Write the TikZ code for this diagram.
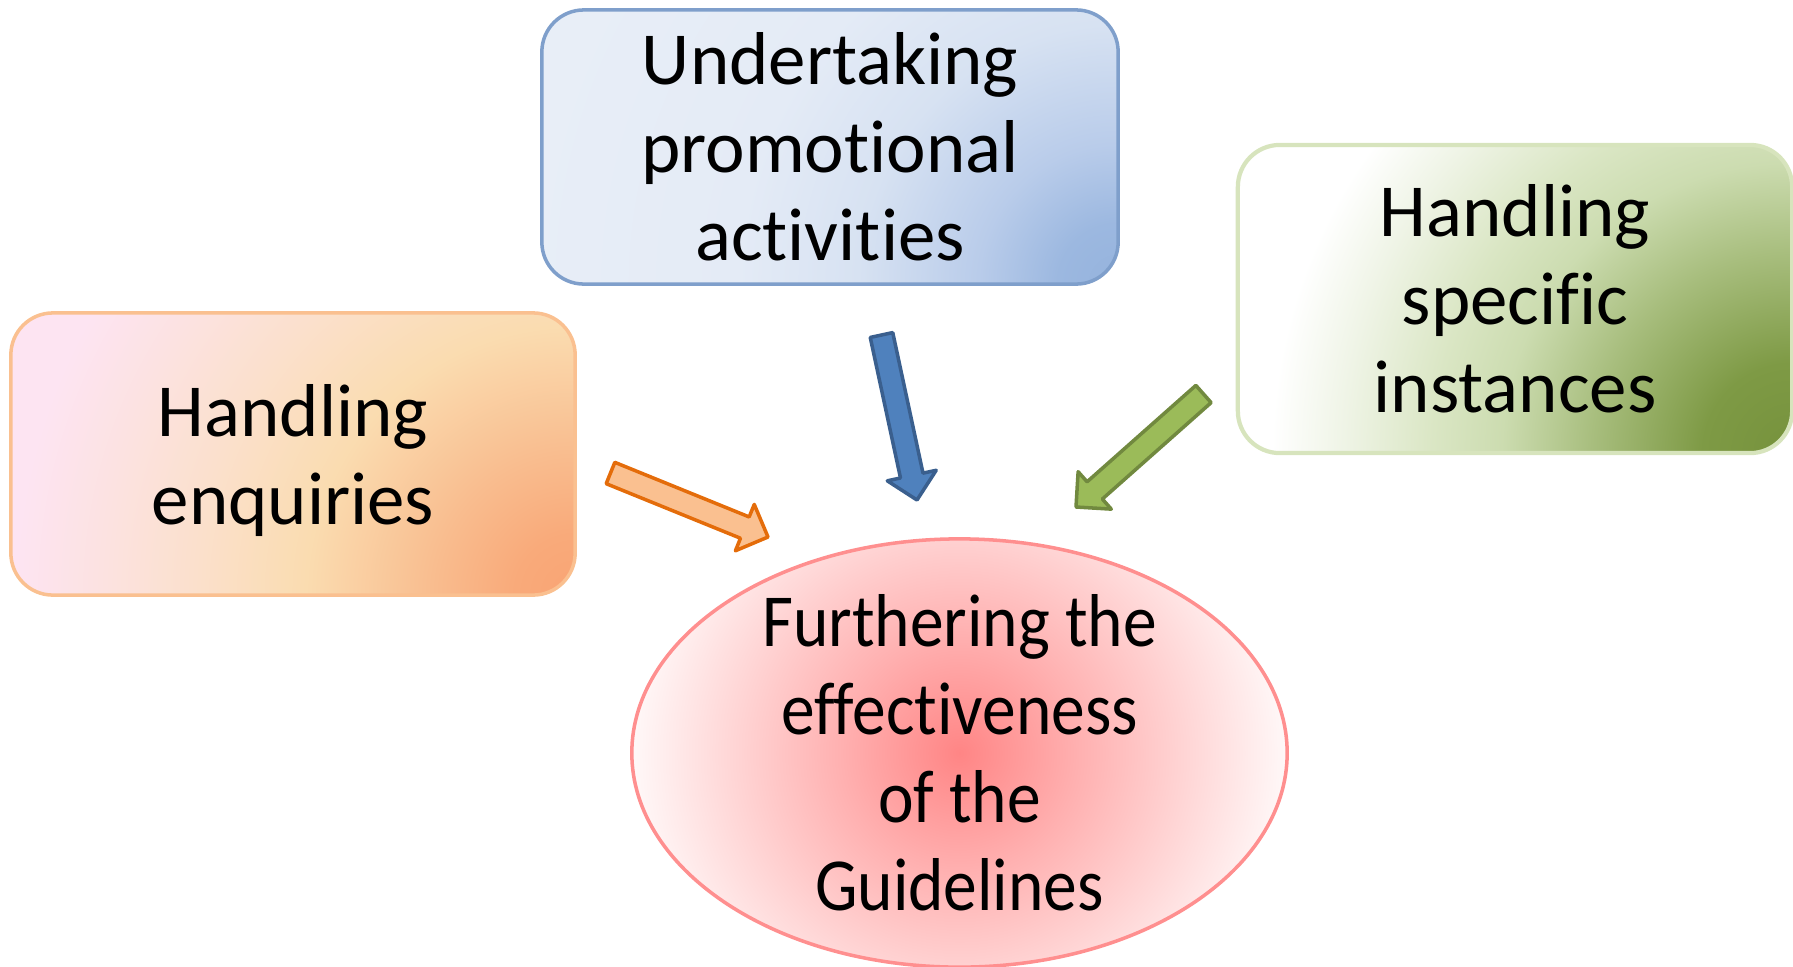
\documentclass[tikz,border=0pt]{standalone}
\usepackage{fontspec}
\setmainfont[Ligatures=NoCommon]{Carlito}
\newfontfamily\narrowfont[FakeStretch=0.9,Ligatures=NoCommon]{Carlito}
\usetikzlibrary{calc,shapes.geometric}

\definecolor{oBorder}{HTML}{FAC090}
\definecolor{oA}{HTML}{F9A474}
\definecolor{oB}{HTML}{F9AA7A}
\definecolor{oC}{HTML}{F9BC8E}
\definecolor{oD}{HTML}{FADCB0}
\definecolor{oE}{HTML}{FBE0CC}
\definecolor{oF}{HTML}{FCE2E0}
\definecolor{oG}{HTML}{FDE4F2}
\definecolor{bBorder}{HTML}{7F9FCB}
\definecolor{bA}{HTML}{95B3DD}
\definecolor{bB}{HTML}{9CB8E0}
\definecolor{bC}{HTML}{B9CCEA}
\definecolor{bD}{HTML}{D7E2F2}
\definecolor{bE}{HTML}{E4EBF6}
\definecolor{bF}{HTML}{E8EEF7}
\definecolor{gBorder}{HTML}{D7E4BD}
\definecolor{gA}{HTML}{76923C}
\definecolor{gB}{HTML}{7E9A45}
\definecolor{gC}{HTML}{A8BE7E}
\definecolor{gD}{HTML}{CCDCB0}
\definecolor{gE}{HTML}{DAE6C4}
\definecolor{gF}{HTML}{EFF4E6}
\definecolor{gG}{HTML}{FFFFFF}
\definecolor{rBorder}{HTML}{FF8F8F}
\definecolor{rOne}{HTML}{FF8585}
\definecolor{rTwo}{HTML}{FFB0B0}
\definecolor{rThree}{HTML}{FFD4D4}
\definecolor{rFour}{HTML}{FFF8F8}
\definecolor{oaFill}{HTML}{FAC090}
\definecolor{oaDraw}{HTML}{E46C0A}
\definecolor{baFill}{HTML}{4F81BD}
\definecolor{baDraw}{HTML}{3A5F8E}
\definecolor{gaFill}{HTML}{9BBB59}
\definecolor{gaDraw}{HTML}{71893F}

% radial shadings from the lower right corner (radius 6.6cm <-> 25bp)
\pgfdeclareradialshading{orangerad}{\pgfpoint{0bp}{0bp}}{color(0bp)=(oA); color(2.3bp)=(oB); color(5.3bp)=(oC); color(10.2bp)=(oD); color(14.4bp)=(oE); color(17.8bp)=(oF); color(21.2bp)=(oG); color(50bp)=(oG)}
\pgfdeclareradialshading{bluerad}{\pgfpoint{0bp}{0bp}}{color(0bp)=(bA); color(2.3bp)=(bB); color(5.3bp)=(bC); color(9.85bp)=(bD); color(14.4bp)=(bE); color(22.7bp)=(bF); color(50bp)=(bF)}
\pgfdeclareradialshading{greenrad}{\pgfpoint{0bp}{0bp}}{color(0bp)=(gA); color(3.4bp)=(gB); color(7.6bp)=(gC); color(11bp)=(gD); color(13.6bp)=(gE); color(17bp)=(gF); color(19.7bp)=(gG); color(50bp)=(gG)}
\pgfdeclareradialshading{redshade}{\pgfpoint{0bp}{0bp}}{color(0bp)=(rOne); color(9bp)=(rTwo); color(17bp)=(rThree); color(25bp)=(rFour); color(50bp)=(rFour)}

\newcommand\blockarrow[3]{%
  \coordinate (ah) at ($(#3)!0.25cm!(#2)$);
  \draw[#1] ($(#2)!0.115cm!90:(#3)$) -- ($(ah)!0.115cm!90:(#3)$) -- ($(ah)!0.25cm!90:(#3)$) -- (#3)
     -- ($(ah)!0.25cm!-90:(#3)$) -- ($(ah)!0.115cm!-90:(#3)$) -- ($(#2)!0.115cm!-90:(#3)$) -- cycle;
}

\begin{document}
\begin{tikzpicture}[x=0.01cm,y=-0.01cm,
  txt/.style={font=\fontsize{21.3}{25}\selectfont, align=center, text=black},
  narrowtxt/.style={font=\narrowfont\fontsize{21.3}{25}\selectfont, align=center, text=black},
  box/.style={rectangle, rounded corners=0.42cm, inner sep=0pt, outer sep=0pt, line width=1pt},
  cornershade/.style={path picture={\shade[shading=#1] (path picture bounding box.south east) circle (6.6cm);}},
  blockarr/.style={line width=1pt, line join=round}]
\useasboundingbox (0,0) rectangle (1793,966);

\node[box, draw=oBorder, cornershade=orangerad, minimum width=5.64cm, minimum height=2.82cm, txt] (enq) at (293,454) {\rule{0pt}{18.5pt}Handling\\enquiries};
\node[box, draw=bBorder, cornershade=bluerad, minimum width=5.76cm, minimum height=2.74cm, txt] (promo) at (830,147) {Undertaking\\promotional\\activities};
\node[box, draw=gBorder, line width=1.2pt, cornershade=greenrad, minimum width=5.54cm, minimum height=3.08cm, txt] (inst) at (1515,299) {Handling\\specific\\instances};

\node[ellipse, draw=rBorder, line width=1pt, minimum width=6.55cm, minimum height=4.28cm, inner sep=0pt,
  path picture={\shade[shading=redshade] (path picture bounding box.center) circle (3.27cm);}] (goal) at (959.5,753) {};
\node[narrowtxt] (goaltext) at (goal.center) {Furthering the\\effectiveness\\of the\\Guidelines};

\coordinate (oTail) at (610.5,473);
\coordinate (oTip) at (768,537);
\coordinate (bTail) at (881.5,335);
\coordinate (bTip) at (917,500);
\coordinate (gTail) at (1203.5,394);
\coordinate (gTip) at (1076,507);

\blockarrow{blockarr, fill=oaFill, draw=oaDraw}{oTail}{oTip}
\blockarrow{blockarr, fill=baFill, draw=baDraw}{bTail}{bTip}
\blockarrow{blockarr, fill=gaFill, draw=gaDraw}{gTail}{gTip}
\end{tikzpicture}
\end{document}
